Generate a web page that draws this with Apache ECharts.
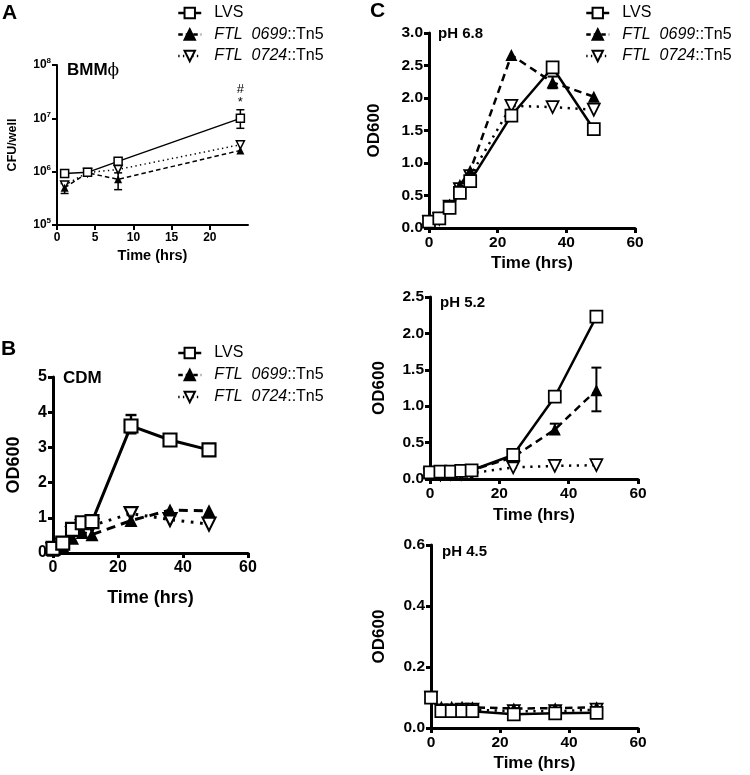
<!DOCTYPE html>
<html><head><meta charset="utf-8">
<script src="https://cdn.jsdelivr.net/npm/echarts@6/dist/echarts.min.js"></script>
<style>html,body{margin:0;padding:0;background:#fff}#c{width:750px;height:775px}</style>
</head><body><div id="c"></div>
<script>
// ---------- DATA ----------
const seriesNames = ['LVS', 'FTL 0699::Tn5', 'FTL 0724::Tn5'];

// Panel A (BMM, log CFU/well)
const timesA = [1, 4, 8, 24];
const aLVS  = [9.2e5, 9.7e5, 1.56e6, 1.0e7];
const a0699 = [5.0e5, 9.5e5, 7.2e5, 2.5e6];
const a0724 = [5.6e5, 9.6e5, 1.1e6, 3.2e6];
const aLVSErr  = [[24, 6.5e6, 1.45e7]];
const a0699Err = [[1, 3.9e5, 6.0e5], [8, 4.6e5, 9.5e5]];

// Panel B (CDM)
const times = [0, 3, 6, 9, 12, 24, 36, 48];
const bLVS  = [0.13, 0.28, 0.67, 0.86, 0.89, 3.61, 3.21, 2.93];
const b0699 = [0.08, 0.20, 0.42, 0.58, 0.52, 0.92, 1.22, 1.20];
const b0724 = [0.10, 0.22, 0.55, 0.75, 0.78, 1.12, 0.95, 0.82];
const bLVSErr = [[24, 3.40, 3.92]];

// Panel C pH 6.8
const c68LVS  = [0.10, 0.15, 0.31, 0.54, 0.72, 1.73, 2.47, 1.52];
const c680699 = [0.10, 0.16, 0.36, 0.66, 0.88, 2.66, 2.24, 2.02];
const c680724 = [0.09, 0.14, 0.33, 0.60, 0.80, 1.88, 1.86, 1.82];
const c680699Err = [[36, 2.15, 2.33]];

// Panel C pH 5.2
const c52LVS  = [0.09, 0.10, 0.10, 0.11, 0.12, 0.33, 1.13, 2.23];
const c520699 = [0.08, 0.09, 0.10, 0.11, 0.12, 0.30, 0.68, 1.22];
const c520724 = [0.06, 0.06, 0.07, 0.07, 0.08, 0.16, 0.18, 0.19];
const c520699Err = [[36, 0.62, 0.76], [48, 0.93, 1.53]];

// Panel C pH 4.5
const c45LVS  = [0.10, 0.055, 0.055, 0.055, 0.055, 0.045, 0.048, 0.050];
const c450699 = [0.10, 0.070, 0.070, 0.070, 0.068, 0.064, 0.065, 0.068];
const c450724 = [0.10, 0.058, 0.058, 0.060, 0.060, 0.055, 0.055, 0.060];

// ---------- CHART ----------
const FONT = 'Liberation Sans, Arial, sans-serif';
const DOWN_TRI = 'path://M0,0 L10,0 L5,9 Z';
const chart = echarts.init(document.getElementById('c'));

const grids = [
  {left: 57, top: 65, width: 191, height: 160},   // A
  {left: 53, top: 377, width: 195, height: 176},  // B
  {left: 429, top: 33, width: 206, height: 195},  // C 6.8
  {left: 430, top: 297, width: 208, height: 182}, // C 5.2
  {left: 431, top: 545, width: 207, height: 183}  // C 4.5
];

// per panel styling
const P = [
  {axisW: 2, tick: 12, name: 14.5, xGap: 23, yGap: 38, yName: 'CFU/well', yNameSize: 12.5, sym: 8, lw: 1.5, cap: 8},
  {axisW: 3, tick: 16, name: 18, xGap: 36, yGap: 30, yName: 'OD600', yNameSize: 18, sym: 13, lw: 3, cap: 11},
  {axisW: 3, tick: 15.5, name: 17, xGap: 27, yGap: 46, yName: 'OD600', yNameSize: 17, sym: 12, lw: 2.5, cap: 10},
  {axisW: 3, tick: 15.5, name: 17, xGap: 28, yGap: 42, yName: 'OD600', yNameSize: 17, sym: 12, lw: 2.5, cap: 10},
  {axisW: 3, tick: 15.5, name: 17, xGap: 27, yGap: 43, yName: 'OD600', yNameSize: 17, sym: 12, lw: 2.5, cap: 10}
];

const xAxes = grids.map((g, i) => {
  const p = P[i];
  const ax = {
    type: 'value', gridIndex: i, min: 0, max: i === 0 ? 25 : 60, interval: i === 0 ? 5 : 20,
    name: 'Time (hrs)', nameLocation: 'middle', nameGap: p.xGap,
    nameTextStyle: {fontFamily: FONT, fontWeight: 'bold', fontSize: p.name, color: '#000'},
    axisLine: {onZero: false, lineStyle: {color: '#000', width: p.axisW}},
    axisTick: {length: 5, lineStyle: {color: '#000', width: p.axisW}},
    axisLabel: {margin: 7, fontFamily: FONT, fontWeight: 'bold', fontSize: p.tick, color: '#000'},
    splitLine: {show: false}
  };
  if (i === 0) {
    ax.axisTick.customValues = [0, 5, 10, 15, 20];
    ax.axisLabel.customValues = [0, 5, 10, 15, 20];
  }
  return ax;
});

const yCfg = [
  {type: 'log', min: 1e5, max: 1e8},
  {type: 'value', min: 0, max: 5, interval: 1},
  {type: 'value', min: 0, max: 3, interval: 0.5},
  {type: 'value', min: 0, max: 2.5, interval: 0.5},
  {type: 'value', min: 0, max: 0.6, interval: 0.2}
];
const yAxes = yCfg.map((c, i) => {
  const p = P[i];
  const ax = Object.assign({}, c, {
    gridIndex: i,
    name: p.yName, nameLocation: 'middle', nameGap: p.yGap,
    nameTextStyle: {fontFamily: FONT, fontWeight: 'bold', fontSize: p.yNameSize, color: '#000'},
    axisLine: {show: true, onZero: false, lineStyle: {color: '#000', width: p.axisW}},
    axisTick: {show: true, length: 5, lineStyle: {color: '#000', width: p.axisW}},
    axisLabel: {margin: 6, fontFamily: FONT, fontWeight: 'bold', fontSize: p.tick, color: '#000'},
    splitLine: {show: false}
  });
  if (i === 0) {
    ax.logBase = 10;
    ax.axisLabel.formatter = v => '{b|10}{s|' + Math.round(Math.log10(v)) + '}';
    ax.axisLabel.rich = {
      b: {fontFamily: FONT, fontWeight: 'bold', fontSize: 12, color: '#000', lineHeight: 16},
      s: {fontFamily: FONT, fontWeight: 'bold', fontSize: 8, color: '#000', verticalAlign: 'top', lineHeight: 16, padding: [0, 0, 8, 0]}
    };
  } else if (i >= 2) {
    ax.axisLabel.formatter = v => v.toFixed(1);
  }
  return ax;
});

function lineSeries(gi, name, xs, ys, kind) {
  const p = P[gi];
  const base = {
    type: 'line', name: name, xAxisIndex: gi, yAxisIndex: gi,
    data: xs.map((x, k) => [x, ys[k]]), clip: false, z: 3, symbolSize: p.sym,
    animation: false
  };
  if (kind === 0) {
    base.symbol = 'rect';
    base.itemStyle = {color: '#fff', borderColor: '#000', borderWidth: Math.max(1.5, p.lw * 0.7)};
    base.lineStyle = {color: '#000', width: p.lw, type: 'solid'};
    base.z = 5;
  } else if (kind === 1) {
    base.symbol = 'triangle';
    base.itemStyle = {color: '#000', borderColor: '#000', borderWidth: 0};
    base.lineStyle = {color: '#000', width: p.lw, type: [p.lw * 3, p.lw * 2]};
    base.z = 4;
  } else {
    base.symbol = DOWN_TRI;
    base.itemStyle = {color: '#fff', borderColor: '#000', borderWidth: Math.max(1.5, p.lw * 0.7)};
    base.lineStyle = {color: '#000', width: p.lw, type: [p.lw * 0.9, p.lw * 2.2]};
    base.z = 3;
  }
  return base;
}

function errSeries(gi, arr) {
  const p = P[gi];
  return {
    type: 'custom', xAxisIndex: gi, yAxisIndex: gi, data: arr, z: 2, silent: true, clip: false,
    animation: false,
    encode: {x: 0, y: [1, 2]},
    renderItem: (params, api) => {
      const x = api.value(0), lo = api.value(1), hi = api.value(2);
      const a = api.coord([x, hi]), b = api.coord([x, lo]);
      const h = p.cap / 2, st = {stroke: '#000', lineWidth: Math.max(1.5, p.lw * 0.8)};
      return {type: 'group', children: [
        {type: 'line', shape: {x1: a[0], y1: a[1], x2: b[0], y2: b[1]}, style: st},
        {type: 'line', shape: {x1: a[0] - h, y1: a[1], x2: a[0] + h, y2: a[1]}, style: st},
        {type: 'line', shape: {x1: b[0] - h, y1: b[1], x2: b[0] + h, y2: b[1]}, style: st}
      ]};
    }
  };
}

const series = [];
const panelData = [
  [timesA, aLVS, a0699, a0724],
  [times, bLVS, b0699, b0724],
  [times, c68LVS, c680699, c680724],
  [times, c52LVS, c520699, c520724],
  [times, c45LVS, c450699, c450724]
];
panelData.forEach((d, gi) => {
  series.push(lineSeries(gi, seriesNames[2], d[0], d[3], 2));
  series.push(lineSeries(gi, seriesNames[1], d[0], d[2], 1));
  series.push(lineSeries(gi, seriesNames[0], d[0], d[1], 0));
});
// annotation "#" "*" above LVS at 24 h in panel A
series[2].markPoint = {
  symbol: 'circle', symbolSize: 0, silent: true, animation: false,
  data: [{coord: [aLVSErr[0][0], aLVSErr[0][2]]}],
  label: {show: true, position: 'top', distance: 1, formatter: '#\n*', fontFamily: FONT, fontSize: 13, lineHeight: 13, color: '#000'}
};
series.push(errSeries(0, aLVSErr));
series.push(errSeries(0, a0699Err));
series.push(errSeries(1, bLVSErr));
series.push(errSeries(2, c680699Err));
series.push(errSeries(3, c520699Err));

function legendAt(left, top, gap) {
  return {
    left: left, top: top, padding: 0, orient: 'vertical', itemGap: gap, itemWidth: 23, itemHeight: 13,
    data: seriesNames.slice(),
    selectedMode: false,
    lineStyle: {width: 2.5},
    itemStyle: {borderWidth: 2},
    formatter: n => {
      if (n.indexOf('FTL') === 0) {
        const parts = n.split('::');
        return '{i|' + parts[0].replace(' ', '  ') + '}{n|::' + parts[1] + '}';
      }
      return '{n|' + n + '}';
    },
    textStyle: {
      padding: [0, 0, 0, 8],
      rich: {
        i: {fontFamily: FONT, fontSize: 16, fontStyle: 'italic', color: '#000', lineHeight: 18},
        n: {fontFamily: FONT, fontSize: 16, color: '#000', lineHeight: 18}
      }
    }
  };
}

const txt = (x, y, text, size, extra) => ({
  type: 'text', left: x, top: y,
  style: Object.assign({text: text, fontFamily: FONT, fontWeight: 'bold', fontSize: size, fill: '#000'}, extra || {})
});

chart.setOption({
  backgroundColor: '#fff',
  animation: false,
  grid: grids,
  xAxis: xAxes,
  yAxis: yAxes,
  legend: [legendAt(177, 3, 5.5), legendAt(177, 343, 6), legendAt(585, 3, 5.5)].map((l, k) => { l.top = [5, 345, 5][k]; return l; }),
  series: series,
  graphic: [
    txt(2, 3, 'A', 21),
    txt(1, 339, 'B', 21),
    txt(370, 1, 'C', 21),
    txt(67, 62, '{b|BMM}{p|ϕ}', 17, {rich: {
      b: {fontFamily: FONT, fontWeight: 'bold', fontSize: 17, fill: '#000'},
      p: {fontFamily: 'DejaVu Serif, serif', fontWeight: 'normal', fontSize: 17, fill: '#000'}
    }}),
    txt(63, 370, 'CDM', 17),
    txt(438, 26, 'pH 6.8', 15),
    txt(440, 295, 'pH 5.2', 15),
    txt(442, 544, 'pH 4.5', 15)
  ]
});
</script></body></html>
